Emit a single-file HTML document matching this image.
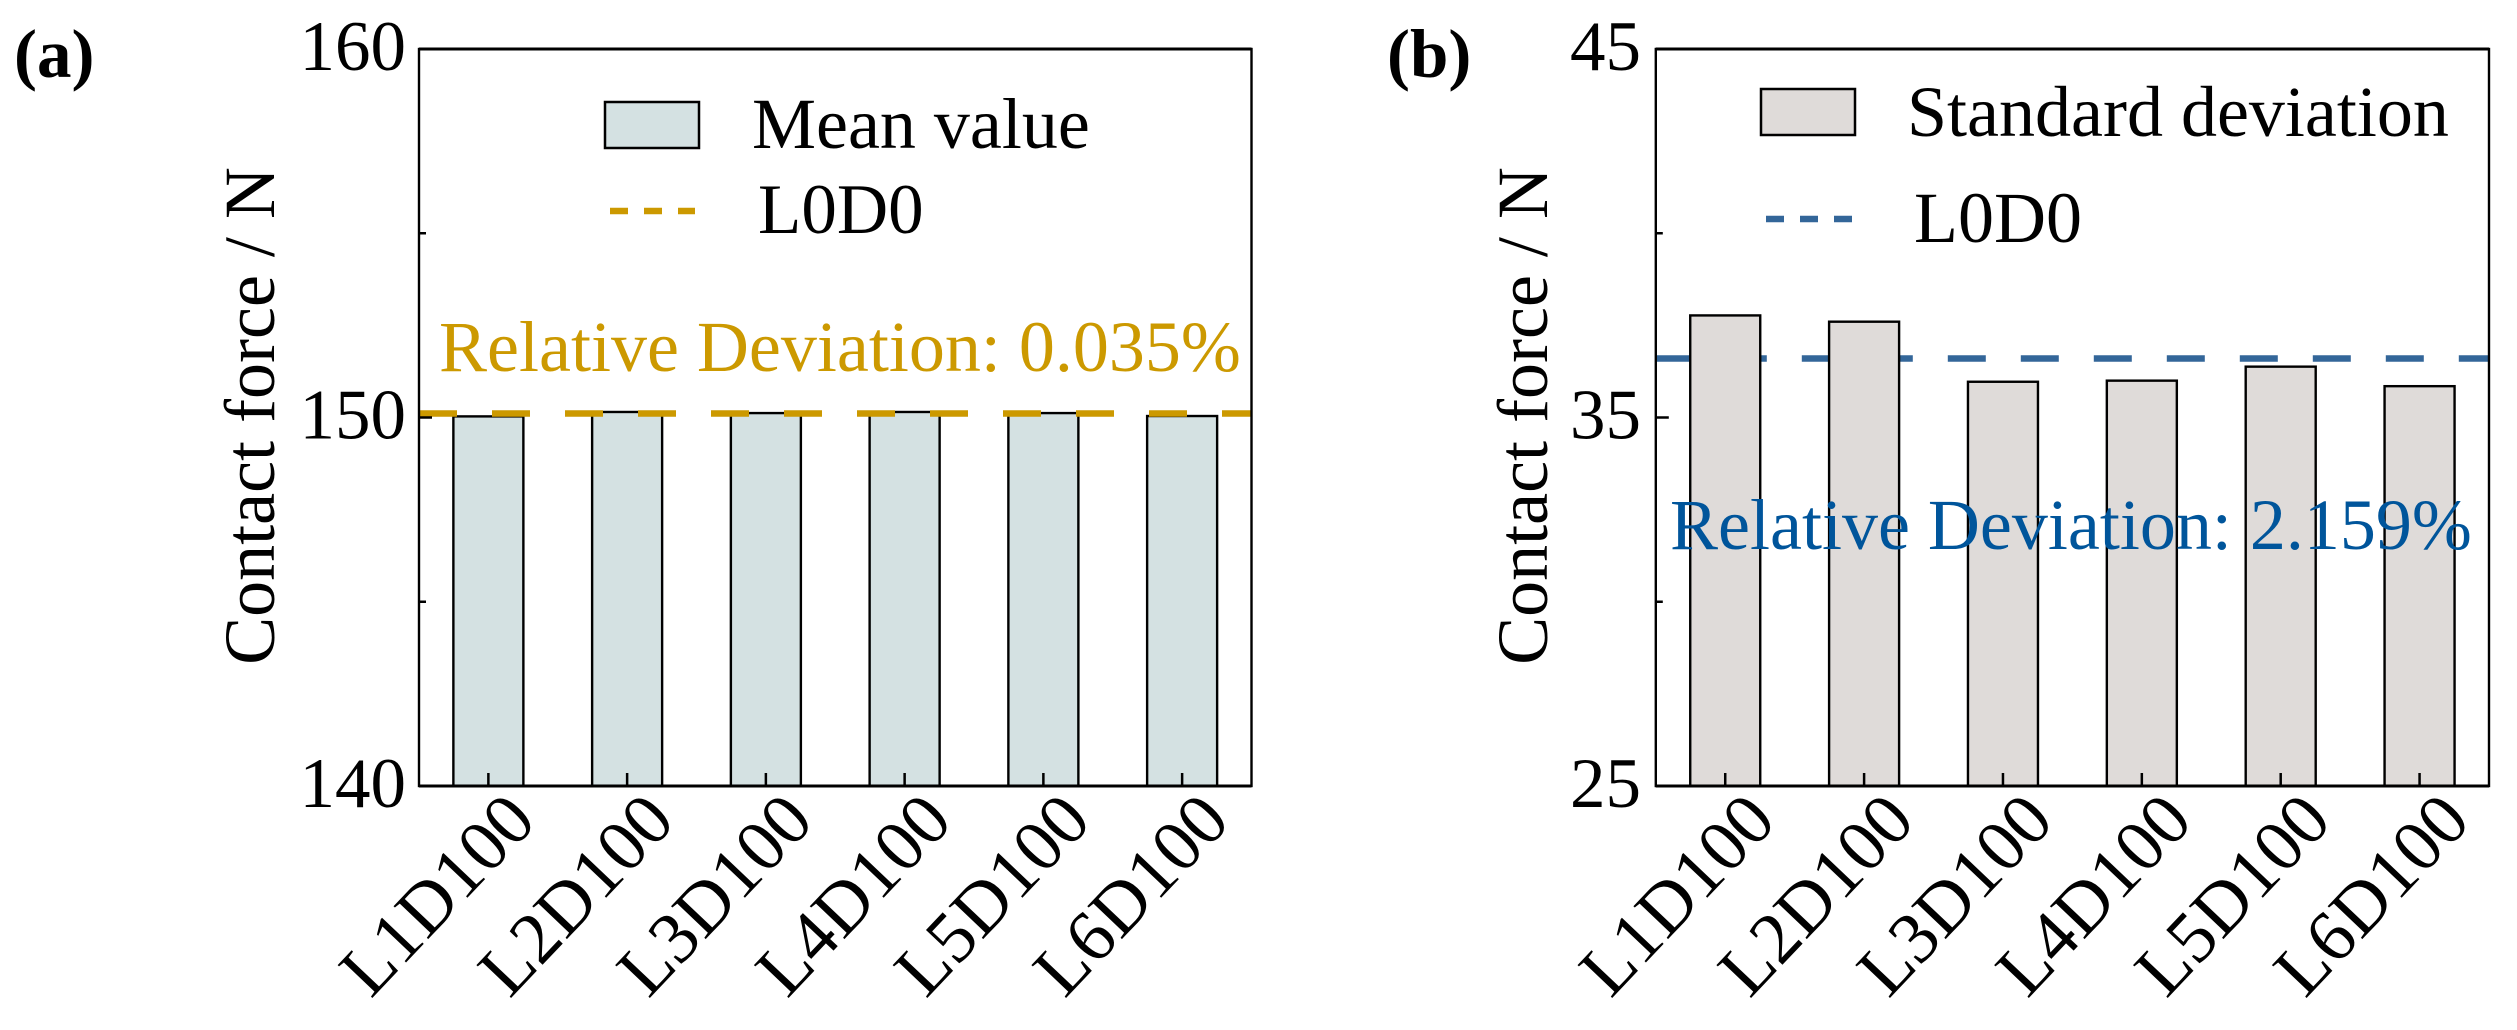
<!DOCTYPE html>
<html lang="en">
<head>
<meta charset="utf-8">
<title>Contact force bar charts</title>
<style>
html,body{margin:0;padding:0;background:#fff;width:2517px;height:1030px;overflow:hidden}
svg{display:block}
text{font-family:"Liberation Serif",serif;fill:#000}
</style>
</head>
<body>
<svg id="figure" xmlns="http://www.w3.org/2000/svg" width="2517" height="1030" viewBox="0 0 2517 1030">
  <g id="panel-a">
    <g id="a-marks"></g>
    <text x="14" y="77" font-size="69" font-weight="bold">(a)</text>
    <text transform="translate(274 416) rotate(-90)" text-anchor="middle" font-size="72">Contact force / N</text>
    <rect x="605" y="102" width="94" height="46" fill="#D4E1E2" stroke="#000" stroke-width="2.5"/>
    <text x="752" y="148" font-size="72">Mean value</text>
    <line x1="610" y1="211" x2="695" y2="211" stroke="#CC9900" stroke-width="6.5" stroke-dasharray="18 16"/>
    <text x="758" y="233" font-size="71">L0D0</text>
    <text x="439" y="371" font-size="72" style="fill:#CC9900">Relative Deviation: 0.035%</text>
  </g>
  <g id="panel-b">
    <g id="b-marks"></g>
    <text x="1387" y="77" font-size="69" font-weight="bold">(b)</text>
    <text transform="translate(1547 416) rotate(-90)" text-anchor="middle" font-size="72">Contact force / N</text>
    <rect x="1761" y="89" width="94" height="46" fill="#DFDBD9" stroke="#000" stroke-width="2.5"/>
    <text x="1907" y="136" font-size="72">Standard deviation</text>
    <line x1="1766" y1="219" x2="1853" y2="219" stroke="#336699" stroke-width="6.5" stroke-dasharray="18 16"/>
    <text x="1914" y="242" font-size="72">L0D0</text>
    <text x="1670" y="549" font-size="72" style="fill:#00559B">Relative Deviation: 2.159%</text>
  </g>
</svg>
<script>
const categories = ["L1D100", "L2D100", "L3D100", "L4D100", "L5D100", "L6D100"];
const meanValues = [150.03, 150.15, 150.12, 150.15, 150.12, 150.04];
const meanReference = [150.11];
const meanTicks = [140, 150, 160];
const meanMinorTicks = [145, 155];
const stdValues = [37.77, 37.6, 35.97, 36.0, 36.38, 35.85];
const stdReference = [36.6];
const stdTicks = [25, 35, 45];
const stdMinorTicks = [30, 40];

const SVG_NS = "http://www.w3.org/2000/svg";

function make(parent, tag, attrs) {
  const el = document.createElementNS(SVG_NS, tag);
  for (const k in attrs) el.setAttribute(k, attrs[k]);
  parent.appendChild(el);
  return el;
}

function drawPanel(cfg) {
  const root = document.getElementById(cfg.id);
  const n = categories.length;
  const band = (cfg.right - cfg.left) / n;
  const xCenter = i => cfg.left + band * (i + 0.5);
  const top = 49, bottom = 786;
  const yMin = cfg.ticks[0];
  const yMax = cfg.ticks[cfg.ticks.length - 1];
  const y = v => bottom - (v - yMin) / (yMax - yMin) * (bottom - top);

  function refLine() {
    const ref = make(root, "line", {
      x1: cfg.left, x2: cfg.right, y1: y(cfg.reference[0]), y2: y(cfg.reference[0]),
      stroke: cfg.lineColor, "stroke-width": 6.5, "stroke-dasharray": "38 35"
    });
    
    
  }

  if (cfg.lineBelow) refLine();

  cfg.values.forEach((v, i) => {
    const bar = make(root, "rect", {
      x: xCenter(i) - 35, y: y(v), width: 70, height: bottom - y(v),
      fill: cfg.fill, stroke: "#000", "stroke-width": 2.4
    });
    
    
  });

  if (!cfg.lineBelow) refLine();

  const frame = make(root, "rect", {
    x: cfg.left, y: top, width: cfg.right - cfg.left, height: bottom - top,
    fill: "none", stroke: "#000", "stroke-width": 2.4
  });
  
  

  const topEdge = make(root, "line", {
    x1: cfg.left, x2: cfg.right, y1: top, y2: top, stroke: "#000", "stroke-width": 3
  });
  
  

  const bottomEdge = make(root, "line", {
    x1: cfg.left, x2: cfg.right, y1: bottom, y2: bottom, stroke: "#000", "stroke-width": 3
  });
  
  

  cfg.ticks.forEach(t => {
    const tick = make(root, "line", {
      x1: cfg.left, x2: cfg.left + 13, y1: y(t), y2: y(t), stroke: "#000", "stroke-width": 2.5
    });
    
    
    const label = make(root, "text", {
      x: cfg.tickRight, y: y(t) + 21, "text-anchor": "end", "font-size": 71
    });
    label.textContent = t;
    
    
  });

  cfg.minorTicks.forEach(t => {
    const minor = make(root, "line", {
      x1: cfg.left, x2: cfg.left + 7, y1: y(t), y2: y(t), stroke: "#000", "stroke-width": 2.5
    });
    
    
  });

  categories.forEach((c, i) => {
    const tick = make(root, "line", {
      x1: xCenter(i), x2: xCenter(i), y1: bottom, y2: bottom - 13, stroke: "#000", "stroke-width": 2.5
    });
    
    
    const lx = xCenter(i) + cfg.labelDx;
    const label = make(root, "text", {
      transform: "translate(" + lx + " " + 823 + ") rotate(-46.5)",
      "text-anchor": "end", "font-size": 73
    });
    label.textContent = c;
    
    
  });
}

drawPanel({
  id: "a-marks", left: 419, right: 1251.5, ticks: meanTicks, minorTicks: meanMinorTicks,
  values: meanValues, reference: meanReference, fill: "#D4E1E2", lineColor: "#CC9900",
  lineBelow: false, tickRight: 406, labelDx: 50
});
drawPanel({
  id: "b-marks", left: 1655.8, right: 2489, ticks: stdTicks, minorTicks: stdMinorTicks,
  values: stdValues, reference: stdReference, fill: "#DFDBD9", lineColor: "#336699",
  lineBelow: true, tickRight: 1641, labelDx: 53
});
</script>
</body>
</html>
